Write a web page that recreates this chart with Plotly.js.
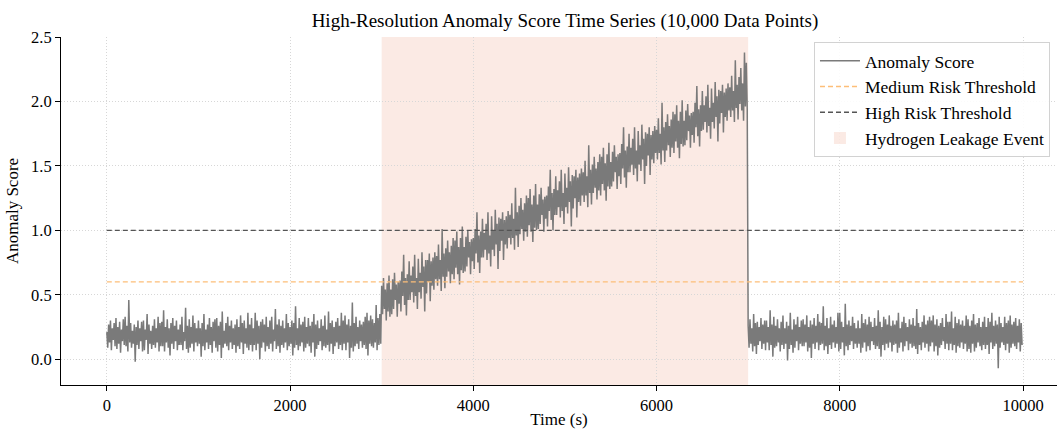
<!DOCTYPE html>
<html>
<head>
<meta charset="utf-8">
<script src="https://cdn.plot.ly/plotly-3.0.1.min.js"></script>
<style>html,body{margin:0;padding:0;background:#fff;} #chart{width:1057px;height:429px;}</style>
</head>
<body>
<div id="chart"></div>
<script>
// ---- Data ----
const timeStart = 0;      // s
const timeStep = 10;      // s between plotted samples
const eventStart = 3000;  // Hydrogen leakage event start (s)
const eventEnd = 7000;    // Hydrogen leakage event end (s)
const mediumThreshold = 0.6;
const highThreshold = 1.0;
const thresholdSpan = [0, 10000];

// Normal operation before the event (0 - 2990 s)
const scoreBefore = [
  0.21,0.09,0.27,0.13,0.30,0.07,0.24,0.15,0.28,0.10,
  0.32,0.08,0.25,0.12,0.29,0.05,0.23,0.14,0.31,0.11,
  0.33,0.10,0.26,0.06,0.46,0.13,0.28,0.09,0.22,0.12,
  0.27,-0.02,0.25,0.11,0.30,0.08,0.24,0.14,0.29,0.06,
  0.30,0.07,0.23,0.15,0.35,0.04,0.27,0.12,0.22,0.08,
  0.26,0.11,0.31,0.09,0.24,0.13,0.33,0.06,0.28,0.10,
  0.29,0.10,0.38,0.06,0.25,0.13,0.31,0.09,0.24,0.03,
  0.28,0.12,0.32,0.08,0.26,0.14,0.30,0.07,0.23,0.11,
  0.27,0.11,0.33,0.07,0.21,0.14,0.40,0.08,0.26,0.05,
  0.31,0.09,0.25,0.12,0.34,0.06,0.28,0.13,0.24,0.10,
  0.30,0.12,0.24,0.02,0.28,0.10,0.35,0.07,0.23,0.13,
  0.27,0.08,0.32,0.11,0.25,0.05,0.29,0.14,0.31,0.09,
  0.32,0.06,0.26,0.11,0.29,0.01,0.37,0.09,0.22,0.12,
  0.28,0.10,0.33,0.07,0.26,0.13,0.30,0.08,0.24,0.11,
  0.27,0.05,0.31,0.10,0.25,0.08,0.34,0.13,0.28,0.04,
  0.30,0.12,0.24,0.09,0.36,0.07,0.27,0.11,0.32,0.06,
  0.24,0.11,0.36,0.07,0.30,0.12,0.26,0.00,0.29,0.09,
  0.31,0.13,0.27,0.06,0.33,0.10,0.25,0.08,0.30,0.12,
  0.33,0.06,0.23,0.14,0.39,0.08,0.27,0.10,0.31,0.05,
  0.26,0.11,0.30,0.09,0.24,0.13,0.35,0.07,0.28,0.10,
  0.25,0.12,0.30,0.03,0.28,0.09,0.41,0.11,0.24,0.07,
  0.32,0.10,0.27,0.13,0.29,0.06,0.33,0.09,0.25,0.12,
  0.32,0.10,0.26,0.05,0.29,0.13,0.35,0.02,0.27,0.08,
  0.30,0.11,0.24,0.14,0.31,0.07,0.26,0.10,0.34,0.09,
  0.23,0.11,0.37,0.06,0.28,0.12,0.30,0.04,0.25,0.10,
  0.29,0.13,0.32,0.08,0.26,0.11,0.36,0.07,0.30,0.12,
  0.34,0.07,0.27,0.13,0.31,0.01,0.26,0.09,0.44,0.06,
  0.28,0.10,0.33,0.12,0.25,0.08,0.30,0.14,0.27,0.09,
  0.29,0.11,0.33,0.08,0.36,0.03,0.30,0.12,0.34,0.10,
  0.31,0.09,0.28,0.13,0.42,0.07,0.32,0.11,0.35,0.12
];
// During the leakage event (3000 - 6990 s)
const scoreEvent = [
  0.57,0.35,0.63,0.39,0.54,0.30,0.59,0.37,0.65,0.33,
  0.54,0.35,0.62,0.39,0.67,0.46,0.58,0.33,0.60,0.43,
  0.61,0.37,0.68,0.49,0.81,0.42,0.63,0.34,0.66,0.46,
  0.76,0.46,0.65,0.52,0.72,0.44,0.81,0.49,0.63,0.39,
  0.78,0.52,0.67,0.47,0.83,0.56,0.72,0.37,0.77,0.51,
  0.77,0.60,0.82,0.45,0.76,0.57,0.79,0.54,0.83,0.62,
  0.80,0.57,0.89,0.62,0.77,0.53,1.01,0.64,0.82,0.55,
  0.86,0.64,0.92,0.68,0.83,0.59,0.88,0.66,0.94,0.62,
  0.92,0.71,0.99,0.66,0.87,0.58,0.94,0.69,1.03,0.67,
  0.87,0.68,0.95,0.72,1.00,0.79,0.91,0.66,0.93,0.76,
  0.94,0.70,1.01,0.82,1.14,0.75,0.96,0.67,0.99,0.79,
  1.09,0.79,0.98,0.85,1.05,0.77,1.14,0.82,0.96,0.72,
  1.11,0.85,1.00,0.80,1.16,0.89,1.05,0.70,1.10,0.84,
  1.09,0.92,1.14,0.77,1.08,0.89,1.11,0.86,1.15,0.94,
  1.12,0.89,1.21,0.94,1.09,0.85,1.33,0.96,1.14,0.87,
  1.19,0.97,1.25,1.01,1.16,0.92,1.21,0.99,1.27,0.95,
  1.25,1.04,1.32,0.99,1.20,0.91,1.27,1.02,1.36,1.00,
  1.20,1.01,1.28,1.05,1.33,1.12,1.24,0.99,1.26,1.09,
  1.27,1.03,1.34,1.15,1.47,1.08,1.29,1.00,1.32,1.12,
  1.42,1.12,1.31,1.18,1.38,1.10,1.47,1.15,1.29,1.05,
  1.44,1.18,1.33,1.13,1.49,1.22,1.38,1.03,1.43,1.17,
  1.42,1.25,1.47,1.10,1.41,1.22,1.44,1.19,1.48,1.27,
  1.45,1.22,1.54,1.27,1.42,1.18,1.66,1.29,1.47,1.20,
  1.51,1.29,1.57,1.33,1.48,1.24,1.53,1.31,1.59,1.27,
  1.57,1.36,1.64,1.31,1.52,1.23,1.59,1.34,1.68,1.32,
  1.53,1.34,1.61,1.38,1.66,1.45,1.57,1.32,1.59,1.42,
  1.60,1.36,1.67,1.48,1.80,1.41,1.62,1.33,1.65,1.45,
  1.75,1.45,1.64,1.51,1.71,1.43,1.80,1.48,1.62,1.38,
  1.77,1.51,1.66,1.46,1.82,1.55,1.71,1.36,1.76,1.50,
  1.75,1.58,1.80,1.43,1.74,1.55,1.77,1.52,1.81,1.60,
  1.78,1.55,1.87,1.60,1.75,1.51,1.99,1.62,1.80,1.53,
  1.84,1.62,1.90,1.66,1.81,1.57,1.86,1.64,1.92,1.60,
  1.90,1.69,1.97,1.64,1.85,1.56,1.92,1.67,2.01,1.65,
  1.85,1.66,1.93,1.70,1.98,1.77,1.89,1.64,1.91,1.74,
  1.92,1.68,1.99,1.80,2.12,1.73,1.94,1.65,1.97,1.77,
  2.08,1.78,1.97,1.84,2.04,1.76,2.13,1.81,1.95,1.71,
  2.10,1.84,1.99,1.79,2.15,1.88,2.04,1.69,2.09,1.83,
  2.08,1.91,2.13,1.76,2.07,1.88,2.10,1.85,2.14,1.93,
  2.11,1.88,2.20,1.93,2.08,1.84,2.32,1.95,2.13,1.86,
  2.19,1.98,2.26,1.93,2.14,1.85,2.38,1.96,2.30,1.94
];
// Normal operation after the event (7000 - 9990 s)
const scoreAfter = [
  0.26,0.09,0.31,0.12,0.24,0.06,0.35,0.10,0.28,0.04,
  0.29,0.11,0.25,0.14,0.32,0.08,0.27,0.12,0.30,0.07,
  0.30,0.13,0.25,0.07,0.38,0.11,0.27,0.02,0.33,0.09,
  0.26,0.10,0.31,0.13,0.24,0.06,0.29,0.11,0.34,0.08,
  0.24,0.12,0.29,-0.01,0.26,0.08,0.36,0.11,0.23,0.05,
  0.31,0.09,0.27,0.14,0.33,0.07,0.25,0.12,0.30,0.10,
  0.31,0.10,0.27,0.13,0.34,0.06,0.25,0.09,0.30,0.01,
  0.27,0.12,0.32,0.08,0.26,0.13,0.35,0.07,0.29,0.11,
  0.28,0.12,0.41,0.07,0.26,0.10,0.32,0.04,0.24,0.11,
  0.33,0.08,0.27,0.13,0.30,0.09,0.25,0.12,0.36,0.06,
  0.36,0.08,0.29,0.13,0.25,0.03,0.43,0.10,0.27,0.07,
  0.30,0.11,0.26,0.14,0.33,0.08,0.28,0.12,0.24,0.09,
  0.30,0.12,0.24,0.05,0.35,0.09,0.28,0.13,0.31,0.06,
  0.27,0.10,0.33,0.07,0.29,0.14,0.25,0.11,0.32,0.08,
  0.26,0.10,0.38,0.08,0.29,0.02,0.25,0.11,0.33,0.07,
  0.31,0.12,0.27,0.09,0.34,0.13,0.26,0.06,0.30,0.11,
  0.27,0.12,0.30,0.05,0.36,0.09,0.24,0.13,0.29,0.06,
  0.33,0.10,0.28,0.14,0.25,0.07,0.31,0.12,0.27,0.09,
  0.32,0.10,0.26,0.08,0.39,0.04,0.28,0.11,0.25,0.07,
  0.29,0.13,0.34,0.09,0.27,0.12,0.30,0.06,0.33,0.10,
  0.30,0.13,0.34,0.06,0.27,0.10,0.31,0.03,0.26,0.09,
  0.28,0.11,0.32,0.14,0.25,0.08,0.35,0.12,0.29,0.07,
  0.29,0.12,0.37,0.07,0.24,0.11,0.33,0.05,0.28,0.10,
  0.31,0.09,0.27,0.13,0.30,0.08,0.26,0.12,0.34,0.06,
  0.31,0.08,0.26,0.05,0.30,0.12,0.35,0.06,0.27,0.09,
  0.28,0.13,0.32,0.10,0.25,0.07,0.29,0.11,0.33,0.08,
  0.25,0.11,0.32,0.04,0.29,0.13,0.36,0.08,0.26,0.10,
  0.30,0.12,0.27,-0.07,0.33,0.09,0.28,0.13,0.25,0.11,
  0.33,0.07,0.28,0.12,0.30,0.05,0.34,0.09,0.27,0.12,
  0.29,0.10,0.32,0.08,0.26,0.13,0.31,0.06,0.28,0.11
];
const xTicks = [0, 2000, 4000, 6000, 8000, 10000];
const yTicks = [0.0, 0.5, 1.0, 1.5, 2.0, 2.5];

// ---- Build series ----
const scores = scoreBefore.concat(scoreEvent, scoreAfter);
const times = scores.map((_, i) => timeStart + i * timeStep);

const serif = 'Liberation Serif, Times New Roman, serif';
const gridStyle = {showgrid: true, gridcolor: 'rgb(215,215,215)', griddash: '1px,2px', gridwidth: 1};

const traces = [
  {
    x: times, y: scores, type: 'scatter', mode: 'lines',
    name: 'Anomaly Score',
    line: {color: 'rgb(122,122,122)', width: 1.5},
    legendrank: 1
  },
  {
    x: thresholdSpan, y: [mediumThreshold, mediumThreshold], type: 'scatter', mode: 'lines',
    name: 'Medium Risk Threshold',
    line: {color: 'rgb(253,190,120)', width: 1.3, dash: '5px,3px'},
    legendrank: 2
  },
  {
    x: thresholdSpan, y: [highThreshold, highThreshold], type: 'scatter', mode: 'lines',
    name: 'High Risk Threshold',
    line: {color: 'rgb(85,85,85)', width: 1.3, dash: '5px,3px'},
    legendrank: 3
  }
];

const layout = {
  width: 1057, height: 429,
  margin: {l: 61, r: 0, t: 37, b: 44},
  paper_bgcolor: '#fff', plot_bgcolor: '#fff',
  font: {family: serif, size: 16, color: '#000'},
  title: {
    text: 'High-Resolution Anomaly Score Time Series (10,000 Data Points)',
    font: {family: serif, size: 19, color: '#000'},
    x: 0.506, xref: 'paper', xanchor: 'center',
    y: 0.953, yref: 'container', yanchor: 'middle'
  },
  xaxis: Object.assign({
    range: [-500, 10371],
    tickvals: xTicks,
    ticktext: xTicks.map(String),
    ticks: 'outside', ticklen: 5, tickwidth: 1, tickcolor: '#000',
    showline: true, linecolor: '#000', linewidth: 1,
    zeroline: false,
    tickfont: {family: serif, size: 16.5},
    title: {text: 'Time (s)', font: {family: serif, size: 17}, standoff: 6}
  }, gridStyle),
  yaxis: Object.assign({
    range: [-0.2, 2.5],
    tickvals: yTicks,
    ticktext: yTicks.map(v => v.toFixed(1)),
    ticks: 'outside', ticklen: 5, tickwidth: 1, tickcolor: '#000',
    showline: true, linecolor: '#000', linewidth: 1,
    zeroline: false,
    tickfont: {family: serif, size: 16.5},
    title: {text: 'Anomaly Score', font: {family: serif, size: 17}, standoff: 8}
  }, gridStyle),
  shapes: [{
    type: 'rect', xref: 'x', yref: 'paper',
    x0: eventStart, x1: eventEnd, y0: 0, y1: 1,
    fillcolor: 'rgba(233,150,122,0.2)', line: {width: 0},
    layer: 'below',
    showlegend: true, name: 'Hydrogen Leakage Event', legendrank: 4
  }],
  legend: {
    x: 0.756, xanchor: 'left', y: 0.986, yanchor: 'top',
    bgcolor: 'rgba(255,255,255,0.9)', bordercolor: 'rgb(210,210,210)', borderwidth: 1,
    font: {family: serif, size: 17.5},
    itemwidth: 40,
    tracegroupgap: 0
  },
  showlegend: true
};

Plotly.newPlot('chart', traces, layout, {displayModeBar: false, staticPlot: true});
</script>
</body>
</html>
